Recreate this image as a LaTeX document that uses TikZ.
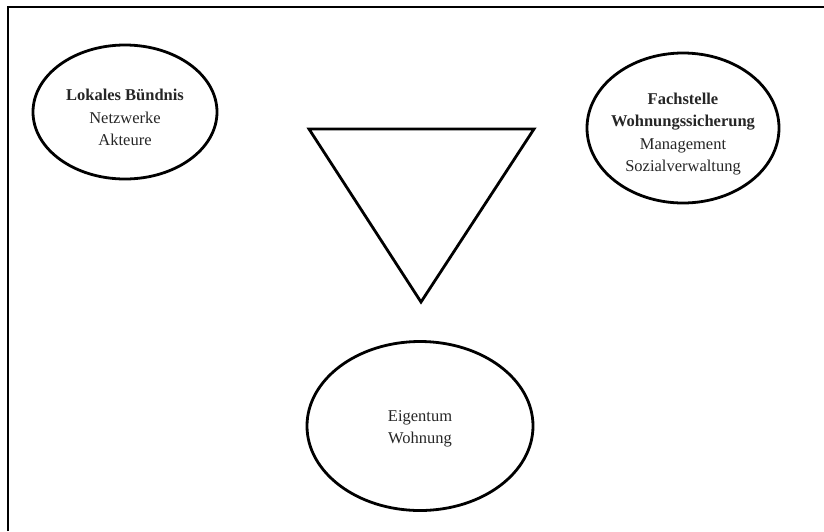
\documentclass[tikz,border=0pt]{standalone}
\usepackage{fontspec}
\setmainfont{Liberation Serif}
\usetikzlibrary{shapes.geometric}

\begin{document}
\begin{tikzpicture}[x=1pt,y=-1pt,
		bubble/.style={draw, ellipse, line width=2.8pt, inner sep=0pt},
		bubbletext/.style={align=center, text=black!85, font=\fontsize{16.5}{22.5}\selectfont}]
		\useasboundingbox (0,0) rectangle (824,531);
		% frame
		\draw[line width=1.8pt] (8,531) -- (8,7) -- (824,7);

		\node[bubble, minimum width=184, minimum height=134] (buendnis) at (125,112) {};
		\node[bubbletext] (buendnis text) at (125,117.5)
			{\textbf{Lokales Bündnis}\\Netzwerke\\Akteure};
		\node[bubble, minimum width=192, minimum height=150] (fachstelle) at (683,128) {};
		\node[bubbletext] (fachstelle text) at (683,134)
			{\textbf{Fachstelle}\\\textbf{Wohnungssicherung}\\Management\\Sozialverwaltung};
		\node[bubble, minimum width=226, minimum height=169] (eigentum) at (420,426) {};
		\node[bubbletext] (eigentum text) at (420,429)
			{Eigentum\\Wohnung};

		% triangle
		\coordinate (tl) at (309,129);
		\coordinate (tr) at (534,129);
		\coordinate (tb) at (421,302);
		\draw[line width=2.8pt] (tl) -- (tr) -- (tb) -- cycle;
	\end{tikzpicture}
\end{document}
